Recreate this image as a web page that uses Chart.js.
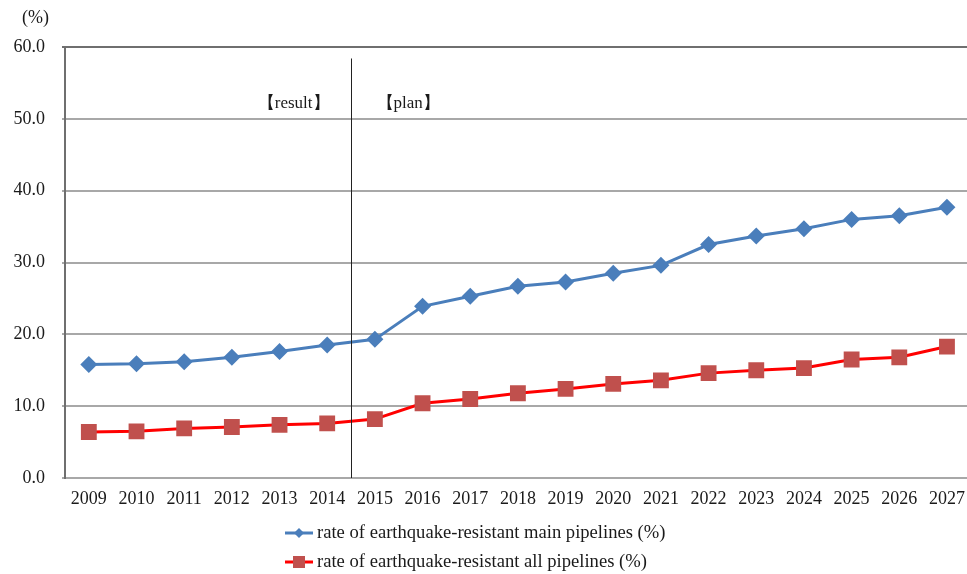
<!DOCTYPE html>
<html>
<head>
<meta charset="utf-8">
<script src="https://cdn.jsdelivr.net/npm/chart.js@4"></script>
<style>
  html, body { margin: 0; padding: 0; background: #fff; overflow: hidden; }
  #wrap { width: 982px; height: 574px; }
</style>
</head>
<body>
<div id="wrap"><canvas id="chart" width="982" height="574"></canvas></div>
<script>
// Fiscal years on the category axis
const years = ['2009','2010','2011','2012','2013','2014','2015','2016','2017','2018',
               '2019','2020','2021','2022','2023','2024','2025','2026','2027'];
// Earthquake-resistance rates (%)
const mainRates = [15.8, 15.9, 16.2, 16.8, 17.6, 18.5, 19.3, 23.9, 25.3, 26.7,
                   27.3, 28.5, 29.6, 32.5, 33.7, 34.7, 36.0, 36.5, 37.7];
const allRates  = [6.4, 6.5, 6.9, 7.1, 7.4, 7.6, 8.2, 10.4, 11.0, 11.8,
                   12.4, 13.1, 13.6, 14.6, 15.0, 15.3, 16.5, 16.8, 18.3];
const seriesNames = ['rate of earthquake-resistant main pipelines (%)',
                     'rate of earthquake-resistant all pipelines (%)'];
const yTicks = [0, 10, 20, 30, 40, 50, 60];
const unitLabel = '(%)';
const phaseLabels = ['【result】', '【plan】'];
const boundaryAfter = '2014';

const SERIF = '"Liberation Serif", "Times New Roman", serif';
const TEXT = '#1a1a1a';

// Divider between results and plan, with the two phase captions
const phasePlugin = {
  id: 'phase',
  afterDatasetsDraw(chart) {
    const { ctx, scales: { x, y } } = chart;
    const idx = years.indexOf(boundaryAfter);
    const xp = Math.round(x.getPixelForValue(idx + 0.5)) + 0.5;
    ctx.save();
    ctx.strokeStyle = '#222';
    ctx.lineWidth = 1;
    ctx.beginPath();
    ctx.moveTo(xp, y.getPixelForValue(58.4));
    ctx.lineTo(xp, y.bottom);
    ctx.stroke();
    ctx.fillStyle = TEXT;
    ctx.font = '17px ' + SERIF;
    ctx.textBaseline = 'middle';
    const ly = y.getPixelForValue(52.1);
    ctx.textAlign = 'right';
    ctx.fillText(phaseLabels[0], xp - 22, ly);
    ctx.textAlign = 'left';
    ctx.fillText(phaseLabels[1], xp + 25, ly);
    // unit caption above the value axis
    ctx.font = '18px ' + SERIF;
    ctx.textAlign = 'left';
    ctx.fillText(unitLabel, 22, 18);
    ctx.restore();
  }
};

// Vertical legend under the axis
const legendPlugin = {
  id: 'stackLegend',
  afterDraw(chart) {
    const { ctx } = chart;
    const rows = [533, 562];
    ctx.save();
    chart.data.datasets.forEach((ds, i) => {
      const yy = rows[i];
      ctx.strokeStyle = ds.borderColor;
      ctx.lineWidth = 3;
      ctx.beginPath();
      ctx.moveTo(285, yy);
      ctx.lineTo(313, yy);
      ctx.stroke();
      ctx.fillStyle = ds.pointBackgroundColor;
      ctx.beginPath();
      if (ds.pointStyle === 'rectRot') {
        ctx.moveTo(299, yy - 5); ctx.lineTo(304, yy); ctx.lineTo(299, yy + 5); ctx.lineTo(294, yy);
      } else {
        ctx.rect(293, yy - 6, 12, 12);
      }
      ctx.closePath();
      ctx.fill();
      ctx.fillStyle = TEXT;
      ctx.font = '18.6px ' + SERIF;
      ctx.textAlign = 'left';
      ctx.textBaseline = 'middle';
      ctx.fillText(ds.label, 317, yy);
    });
    ctx.restore();
  }
};

new Chart(document.getElementById('chart'), {
  type: 'line',
  data: {
    labels: years,
    datasets: [
      {
        label: seriesNames[0],
        data: mainRates,
        borderColor: '#4A7EBB',
        backgroundColor: '#4A7EBB',
        pointBackgroundColor: '#4A7EBB',
        pointBorderColor: '#4A7EBB',
        borderWidth: 3,
        pointStyle: 'rectRot',
        pointRadius: 8.5,
        pointBorderWidth: 0,
        tension: 0
      },
      {
        label: seriesNames[1],
        data: allRates,
        borderColor: '#FF0000',
        backgroundColor: '#C0504D',
        pointBackgroundColor: '#C0504D',
        pointBorderColor: '#C0504D',
        borderWidth: 3,
        pointStyle: 'rect',
        pointRadius: 11.2,
        pointBorderWidth: 0,
        tension: 0
      }
    ]
  },
  options: {
    responsive: false,
    animation: false,
    events: [],
    layout: { padding: { top: 47, right: 0, bottom: 66, left: 0 } },
    plugins: { legend: { display: false }, tooltip: { enabled: false } },
    scales: {
      x: {
        offset: true,
        grid: { display: false, drawTicks: false },
        border: { display: true, color: '#a8a8a8', width: 2 },
        ticks: { color: TEXT, font: { family: SERIF, size: 18 }, padding: 10, maxRotation: 0, autoSkip: false },
        afterFit(s) { s.height = 30; s.paddingLeft = 0; s.paddingRight = 0; }
      },
      y: {
        min: 0,
        max: 60,
        afterBuildTicks(s) { s.ticks = yTicks.map(v => ({ value: v })); },
        grid: {
          color: ctx => (ctx.tick && ctx.tick.value === 60 ? '#6f6f6f' : '#a8a8a8'),
          lineWidth: 2,
          tickLength: 3,
          drawTicks: true
        },
        border: { display: true, color: '#6f6f6f', width: 2 },
        ticks: {
          color: TEXT,
          font: { family: SERIF, size: 18 },
          padding: 17,
          callback: v => Number(v).toFixed(1)
        },
        afterFit(s) { s.width = 65; }
      }
    }
  },
  plugins: [phasePlugin, legendPlugin]
});
</script>
</body>
</html>
